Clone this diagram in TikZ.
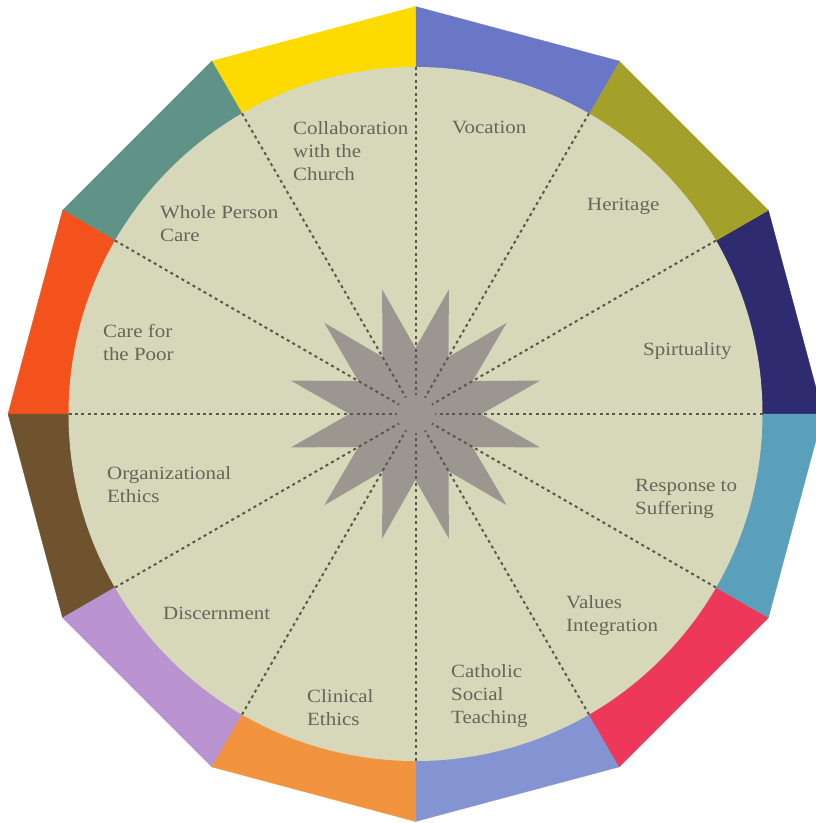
\documentclass[tikz,border=0pt]{standalone}
\usepackage{fontspec}
\setmainfont[FakeStretch=1.12]{Liberation Serif}
\definecolor{cNavy}{HTML}{2F2B70}
\definecolor{cOlive}{HTML}{A4A12A}
\definecolor{cBlueP}{HTML}{6A76C6}
\definecolor{cYellow}{HTML}{FDDA00}
\definecolor{cTealG}{HTML}{5F9388}
\definecolor{cOrRed}{HTML}{F3521D}
\definecolor{cBrown}{HTML}{6F522E}
\definecolor{cLilac}{HTML}{B994D0}
\definecolor{cOrange}{HTML}{F29340}
\definecolor{cPeri}{HTML}{8494D3}
\definecolor{cPink}{HTML}{EE3859}
\definecolor{cTealB}{HTML}{5A9FBB}
\definecolor{cDisc}{HTML}{D7D8B9}
\definecolor{cStar}{HTML}{9B9790}
\definecolor{cDash}{HTML}{5B5849}
\definecolor{cText}{HTML}{65655A}
\begin{document}
\begin{tikzpicture}[x=1pt,y=-1pt,
  lbl/.style={anchor=base west, inner sep=0pt, text=cText,
    font=\fontsize{18.7}{23}\selectfont},
  spoke/.style={cDash, line width=2pt, dash pattern=on 3pt off 3.4pt}]
\useasboundingbox (0,0) rectangle (815,823);
\begin{scope}[shift={(415.5,414)}]
  \foreach \a/\col in {0/cNavy,30/cOlive,60/cBlueP,90/cYellow,120/cTealG,150/cOrRed,
                       180/cBrown,210/cLilac,240/cOrange,270/cPeri,300/cPink,330/cTealB}{
    \fill[\col, draw=\col, line width=0.3pt] (0,0) -- ({-\a}:407.5) -- ({-\a-30}:407.5) -- cycle;
  }
  \fill[cDisc] (0,0) circle (347);
  \fill[cStar] (-15:129)
    \foreach \k in {0,...,11}{ -- ({-30-30*\k}:66) -- ({-45-30*\k}:129) } -- cycle;
  \foreach \a in {0,30,...,330}{
    \draw[spoke] ({-\a}:347) -- ({-\a}:19);
  }
\end{scope}
\node[lbl] (collab) at (293,134) {\begin{tabular}[t]{@{}l@{}}Collaboration\\with the\\Church\end{tabular}};
\node[lbl] (voc) at (452,133) {Vocation};
\node[lbl] (her) at (587,210) {Heritage};
\node[lbl] (spi) at (643,355) {Spirtuality};
\node[lbl] (resp) at (635,491) {\begin{tabular}[t]{@{}l@{}}Response to\\Suffering\end{tabular}};
\node[lbl] (val) at (566,608) {\begin{tabular}[t]{@{}l@{}}Values\\Integration\end{tabular}};
\node[lbl] (cst) at (451,677) {\begin{tabular}[t]{@{}l@{}}Catholic\\Social\\Teaching\end{tabular}};
\node[lbl] (clin) at (307,702) {\begin{tabular}[t]{@{}l@{}}Clinical\\Ethics\end{tabular}};
\node[lbl] (disc) at (163,619) {Discernment};
\node[lbl] (org) at (107,479) {\begin{tabular}[t]{@{}l@{}}Organizational\\Ethics\end{tabular}};
\node[lbl] (poor) at (103,337) {\begin{tabular}[t]{@{}l@{}}Care for\\the Poor\end{tabular}};
\node[lbl] (whole) at (160,218) {\begin{tabular}[t]{@{}l@{}}Whole Person\\Care\end{tabular}};
\end{tikzpicture}
\end{document}
